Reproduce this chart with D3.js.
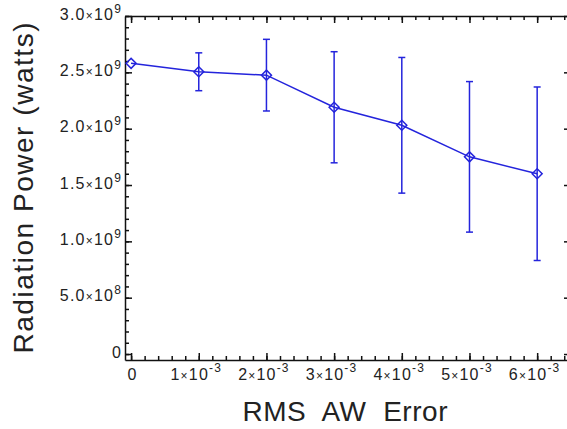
<!DOCTYPE html>
<html>
<head>
<meta charset="utf-8">
<script src="https://cdn.jsdelivr.net/npm/d3@7"></script>
<style>
  body { margin: 0; background: #fff; }
  svg { display: block; }
  text { font-family: "Liberation Sans", Arial, sans-serif; fill: #222; }
  .axis path, .axis line { stroke: #111; stroke-width: 1.5; }
  .ticklabel { font-size: 16px; letter-spacing: 1.2px; }
  .ticklabel .small { font-size: 12px; }
</style>
</head>
<body>
<div id="chart"></div>
<script>
// RMS AW error (x) and radiation power with its error bar (y)
const rmsError = [0, 1e-3, 2e-3, 3e-3, 4e-3, 5e-3, 6e-3];
const power    = [2.58e9, 2.505e9, 2.475e9, 2.19e9, 2.03e9, 1.75e9, 1.60e9];
const powerErr = [0, 0.168e9, 0.318e9, 0.493e9, 0.602e9, 0.668e9, 0.77e9];

const xMajor = [0, 1e-3, 2e-3, 3e-3, 4e-3, 5e-3, 6e-3];
const xLabels = [["0", null], ["1", "-3"], ["2", "-3"], ["3", "-3"], ["4", "-3"], ["5", "-3"], ["6", "-3"]];
const yMajor = [0, 0.5e9, 1.0e9, 1.5e9, 2.0e9, 2.5e9, 3.0e9];
const yLabels = [["0", null, null], ["5.0", "10", "8"], ["1.0", "10", "9"], ["1.5", "10", "9"],
                 ["2.0", "10", "9"], ["2.5", "10", "9"], ["3.0", "10", "9"]];

const W = 567, H = 429;
const plot = { left: 125, right: 571, top: 16, bottom: 360 };
const blue = "#2424dc";

const svg = d3.select("#chart").append("svg")
  .attr("width", W)
  .attr("height", H);

const x = d3.scaleLinear()
  .domain([-0.09e-3, 6.5e-3])
  .range([plot.left, plot.right]);

const y = d3.scaleLinear()
  .domain([-0.053e9, 3.0e9])
  .range([plot.bottom, plot.top]);

const xMinor = d3.range(0, 6.5e-3 + 1e-9, 0.2e-3).filter(v => x(v) <= plot.right);
const yMinor = d3.range(0, 3.0e9 + 1, 0.1e9);

// minor ticks on all four sides
const minor = [
  [d3.axisBottom(x).tickValues(xMinor), `translate(0,${plot.bottom})`],
  [d3.axisTop(x).tickValues(xMinor), `translate(0,${plot.top})`],
  [d3.axisLeft(y).tickValues(yMinor), `translate(${plot.left},0)`],
  [d3.axisRight(y).tickValues(yMinor), `translate(${plot.right},0)`]
];
minor.forEach(([ax, tr]) => {
  svg.append("g").attr("class", "axis").attr("transform", tr)
    .call(ax.tickSize(-4).tickSizeOuter(0).tickFormat(""))
    .call(g => g.select(".domain").remove());
});

// major ticks + frame
const xAxis = svg.append("g").attr("class", "axis")
  .attr("transform", `translate(0,${plot.bottom})`)
  .call(d3.axisBottom(x).tickValues(xMajor).tickSize(-7).tickSizeOuter(0))
  .attr("font-size", null);
svg.append("g").attr("class", "axis")
  .attr("transform", `translate(0,${plot.top})`)
  .call(d3.axisTop(x).tickValues(xMajor).tickSize(-7).tickSizeOuter(0).tickFormat(""));
const yAxis = svg.append("g").attr("class", "axis")
  .attr("transform", `translate(${plot.left},0)`)
  .call(d3.axisLeft(y).tickValues(yMajor).tickSize(-7).tickSizeOuter(0))
  .attr("font-size", null);
svg.append("g").attr("class", "axis")
  .attr("transform", `translate(${plot.right},0)`)
  .call(d3.axisRight(y).tickValues(yMajor).tickSize(-7).tickSizeOuter(0).tickFormat(""));

// tick labels with superscript exponents
xAxis.selectAll(".tick text").each(function(d, i) {
  const t = d3.select(this).text(null)
    .attr("class", "ticklabel")
    .attr("y", 20).attr("dy", 0)
    .attr("x", i === 0 ? 1 : -3);
  const [m, e] = xLabels[i];
  t.append("tspan").text(m);
  if (e) {
    t.append("tspan").attr("class", "small").text("×");
    t.append("tspan").text("10");
    t.append("tspan").attr("class", "small").text(e).attr("dy", -8);
  }
});

yAxis.selectAll(".tick text").each(function(d, i) {
  const t = d3.select(this).text(null)
    .attr("class", "ticklabel")
    .attr("x", -3).attr("dy", 3);
  const [m, b, e] = yLabels[i];
  t.append("tspan").text(m);
  if (b) {
    t.append("tspan").attr("class", "small").text("×");
    t.append("tspan").text(b);
    t.append("tspan").attr("class", "small").text(e).attr("dy", -7);
  }
});

// error bars
const bars = svg.append("g")
  .attr("stroke", blue)
  .attr("stroke-width", 1.5)
  .attr("fill", "none");

rmsError.forEach((v, i) => {
  if (!powerErr[i]) return;
  const cx = x(v), lo = y(power[i] - powerErr[i]), hi = y(power[i] + powerErr[i]);
  bars.append("line").attr("x1", cx).attr("x2", cx).attr("y1", lo).attr("y2", hi);
  bars.append("line").attr("x1", cx - 3.5).attr("x2", cx + 3.5).attr("y1", lo).attr("y2", lo);
  bars.append("line").attr("x1", cx - 3.5).attr("x2", cx + 3.5).attr("y1", hi).attr("y2", hi);
});

// data line
const line = d3.line()
  .x((d, i) => x(rmsError[i]))
  .y(d => y(d));

svg.append("path")
  .datum(power)
  .attr("d", line)
  .attr("fill", "none")
  .attr("stroke", blue)
  .attr("stroke-width", 1.5);

// diamond markers
svg.append("g").selectAll("path")
  .data(power)
  .join("path")
  .attr("d", d3.symbol(d3.symbolSquare, 50))
  .attr("transform", (d, i) => `translate(${x(rmsError[i])},${y(d)}) rotate(45)`)
  .attr("fill", "none")
  .attr("stroke", blue)
  .attr("stroke-width", 1.5);

// axis titles
svg.append("text")
  .attr("x", 345)
  .attr("y", 421)
  .attr("text-anchor", "middle")
  .attr("textLength", 205)
  .style("font-size", "28px")
  .style("white-space", "pre")
  .text("RMS  AW  Error");

svg.append("text")
  .attr("transform", `translate(33,${188}) rotate(-90)`)
  .attr("text-anchor", "middle")
  .attr("textLength", 331)
  .style("font-size", "28px")
  .text("Radiation Power (watts)");
</script>
</body>
</html>
